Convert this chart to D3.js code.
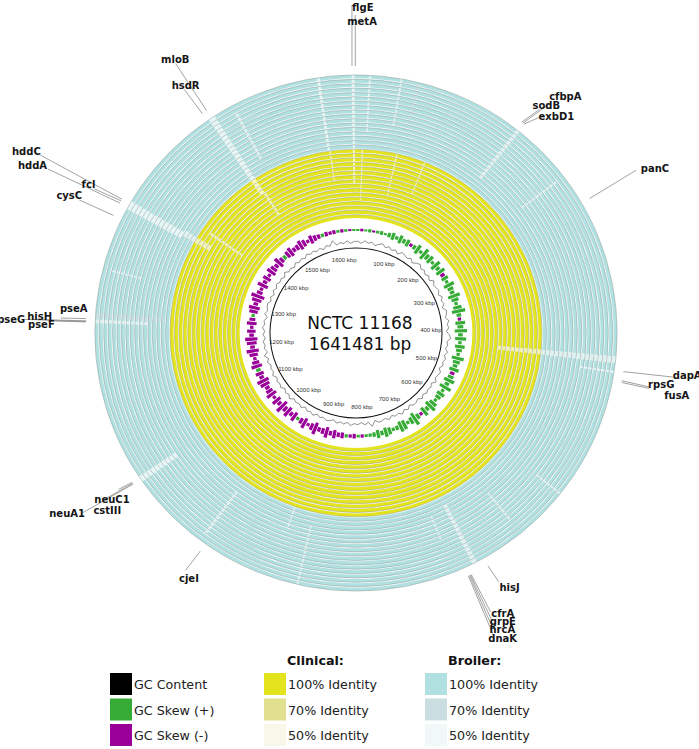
<!DOCTYPE html>
<html>
<head>
<meta charset="utf-8">
<script src="https://cdn.jsdelivr.net/npm/d3@7"></script>
<style>
  body { margin: 0; background: #fff; }
  svg { display: block; }
</style>
</head>
<body>
<div id="chart"></div>
<script>
// genome
const GENOME_KBP = 1641.481;
const genomeLines = ["NCTC 11168", "1641481 bp"];
const tickKbp = [100, 200, 300, 400, 500, 600, 700, 800, 900, 1000, 1100, 1200, 1300, 1400, 1500, 1600];

// ring groups (inside -> outside)
const groupNames = ["Clinical:", "Broiler:"];
const ringCounts = [16, 17];
const identityLabels = ["100% Identity", "70% Identity", "50% Identity"];
const clinicalColors = ["#e3e31e", "#e1e08e", "#f7f7ea"];
const broilerColors = ["#b0e0e0", "#c9dfe1", "#f1f8f8"];
const gcLabels = ["GC Content", "GC Skew (+)", "GC Skew (-)"];
const gcColors = ["#000000", "#36ac36", "#990099"];

// regions of lower identity: [start kbp, end kbp, first ring, last ring, level]
// level 0 = no hit, 50 / 70 = partial identity
const gaps = [
  [1602, 1605, 16, 32, 0], [1604, 1606, 9, 15, 50], [1637, 1640, 8, 32, 0],
  [13, 15, 20, 32, 50], [8, 10, 4, 15, 50], [45, 47, 22, 32, 50], [57, 59, 6, 15, 50],
  [62, 65, 24, 32, 70], [98, 100, 8, 15, 50], [1485, 1492, 12, 32, 0],
  [1490, 1494, 6, 11, 50], [1511, 1514, 19, 30, 50], [1362, 1371, 19, 32, 0],
  [1366, 1374, 12, 18, 50], [1387, 1391, 5, 13, 50], [1246, 1252, 17, 32, 70],
  [1241, 1245, 21, 32, 50], [1296, 1298, 24, 30, 50], [434, 441, 6, 32, 50],
  [449, 451, 25, 32, 0], [695, 700, 18, 32, 50], [641, 643, 21, 28, 50],
  [585, 587, 26, 32, 50], [986, 989, 19, 30, 50], [907, 909, 16, 20, 50],
  [1071, 1077, 23, 32, 0], [173, 177, 19, 32, 50], [239, 241, 21, 30, 50],
  [879, 881, 19, 32, 50], [719, 721, 19, 24, 50]
];

// gene labels: ring position, leader end, label centre (kbp, radius)
const genes = [
  {name: "flgE", pos: 1637.6, lpos: 1638.3, lr: 328, tpos: 5.4, tr: 326},
  {name: "metA", pos: 1640.8, lpos: 1640.9, lr: 318, tpos: 5.0, tr: 312},
  {name: "mloB", pos: 1488.4, lpos: 1488.8, lr: 323, tpos: 1490.5, tr: 327},
  {name: "hsdR", pos: 1483.3, lpos: 1482.5, lr: 297, tpos: 1485.2, tr: 299},
  {name: "hddC", pos: 1368.1, lpos: 1366.5, lr: 359, tpos: 1364.1, tr: 373},
  {name: "hddA", pos: 1363.9, lpos: 1360.2, lr: 346, tpos: 1357.4, tr: 361},
  {name: "fcl", pos: 1366.3, lpos: 1364.0, lr: 296, tpos: 1364.5, tr: 303},
  {name: "cysC", pos: 1350.3, lpos: 1349.4, lr: 304, tpos: 1349.3, tr: 315},
  {name: "pseA", pos: 1245.2, lpos: 1244.5, lr: 292, tpos: 1253.8, tr: 280},
  {name: "hisH", pos: 1243.0, lpos: 1242.2, lr: 320, tpos: 1245.1, tr: 313},
  {name: "pseF", pos: 1242.0, lpos: 1241.5, lr: 305, tpos: 1238.1, tr: 311},
  {name: "pseG", pos: 1242.4, lpos: 1242.0, lr: 328, tpos: 1241.3, tr: 341},
  {name: "cfbpA", pos: 174.0, lpos: 182.0, lr: 300, tpos: 187.9, tr: 314},
  {name: "sodB", pos: 172.5, lpos: 178.0, lr: 288, tpos: 180.6, tr: 295},
  {name: "exbD1", pos: 175.5, lpos: 184.0, lr: 285, tpos: 193.8, tr: 293},
  {name: "panC", pos: 272.5, lpos: 271.5, lr: 321, tpos: 277.9, tr: 338},
  {name: "dapA", pos: 448.3, lpos: 446.9, lr: 316, tpos: 444.2, tr: 330},
  {name: "rpsG", pos: 457.3, lpos: 458.5, lr: 295, tpos: 454.7, tr: 306},
  {name: "fusA", pos: 459.0, lpos: 459.8, lr: 295, tpos: 460.9, tr: 323},
  {name: "hisJ", pos: 687.3, lpos: 686.1, lr: 286, tpos: 680.1, tr: 296},
  {name: "cfrA", pos: 705.6, lpos: 704.5, lr: 309, tpos: 696.2, tr: 316},
  {name: "grpE", pos: 706.6, lpos: 706.6, lr: 317, tpos: 699.0, tr: 323},
  {name: "hrcA", pos: 707.6, lpos: 708.6, lr: 324, tpos: 702.3, tr: 330},
  {name: "dnaK", pos: 708.7, lpos: 710.5, lr: 332, tpos: 705.0, tr: 338},
  {name: "cjeI", pos: 981.3, lpos: 981.9, lr: 291, tpos: 975.3, tr: 296},
  {name: "neuC1", pos: 1076.0, lpos: 1077.5, lr: 282, tpos: 1073.3, tr: 293},
  {name: "cstIII", pos: 1075.0, lpos: 1077.0, lr: 300, tpos: 1067.8, tr: 303},
  {name: "neuA1", pos: 1074.0, lpos: 1077.7, lr: 324, tpos: 1083.5, tr: 338}
];

// GC skew and GC content, 10 kbp windows, relative scale -1..1
const gcSkew = [
  0.1, -0.15, 0.1, 0.2, -0.1, 0.15, 0.25, 0.1, 0.3, 0.5,
  0.2, 0.6, 0.3, 0.5, -0.2, 0.3, 0.7, 0.2, 0.9, 0.4,
  0.6, 0.2, 0.8, 0.3, 0.7, -0.3, 0.5, 0.2, 0.8, 0.4,
  0.3, 0.9, 0.5, 0.2, 0.6, 1.0, 0.3, -0.2, 0.7, 0.4,
  0.9, 0.3, 0.8, 0.2, 0.7, 0.4, 0.2, 0.9, 0.5, 0.3,
  0.7, -0.3, 0.4, 0.8, 0.3, 0.9, 0.2, 0.6, 0.4, 0.2,
  0.6, 0.9, 0.3, 0.7, -0.2, 0.4, 1.0, 0.5, 0.2, 0.7,
  0.8, 0.3, 0.2, 0.5, 0.7, 0.3, 0.6, 0.3, 0.2, 0.15,
  -0.2, 0.15, -0.3, -0.2, 0.2, -0.4, -0.3, -0.6, -0.3, -0.8,
  -0.4, -0.3, -0.9, -0.5, -0.2, -0.8, -0.4, 0.2, -0.7, -0.3,
  -0.8, -0.4, -1.0, -0.3, -0.7, -0.2, -0.8, -0.5, -0.3, -0.7,
  -0.9, -0.3, -0.6, 0.3, -0.8, -0.5, -0.2, -0.6, -0.9, -0.3,
  -0.7, -0.9, -0.3, -0.6, -0.2, -0.7, -0.4, 0.2, -0.6, -0.8,
  -0.3, -0.7, -1.0, -0.4, -0.2, -0.8, -0.3, -0.6, -0.2, -0.7,
  -0.5, -0.3, -0.8, -0.4, 0.3, -0.5, -0.7, -0.3, -0.4, -0.7,
  -0.5, -0.2, -0.6, -0.4, -0.3, 0.2, -0.3, -0.2, -0.25, 0.15,
  -0.2, 0.15, -0.1, 0.1
];
const gcContent = [
  0.2, -0.3, 0.4, -0.1, 0.3, -0.4, 0.1, 0.5, -0.2, 0.3,
  -0.3, 0.2, -0.5, 0.4, 0.1, -0.2, 0.3, -0.4, 0.2, 0.6,
  -0.1, 0.3, -0.3, 0.2, -0.4, 0.5, -0.2, 0.1, 0.3, -0.3,
  0.4, -0.2, 0.2, -0.5, 0.3, 0.1, -0.3, 0.4, -0.1, 0.2,
  -0.4, 0.3, 0.7, -0.2, 0.1, -0.3, 0.4, -0.2, 0.3, -0.1,
  0.2, -0.4, 0.3, 0.1, -0.2, 0.5, -0.3, 0.2, -0.1, 0.3,
  -0.2, 0.4, -0.3, 0.1, 0.2, -0.4, 0.3, -0.2, 0.5, -0.1,
  0.2, -0.3, 0.4, -0.2, 0.1, 0.3, -0.4, 0.9, -0.2, 0.3,
  -0.3, 0.2, -0.1, 0.4, -0.3, 0.2, -0.2, 0.3, -0.4, 0.1,
  0.3, -0.2, 0.2, -0.3, 0.4, -0.1, 0.2, -0.4, 0.3, -0.2,
  0.1, -0.3, 0.5, -0.2, 0.2, -0.4, 0.3, -0.1, 0.2, -0.3,
  0.4, -0.2, 0.1, -0.3, 0.3, -0.2, 0.6, -0.4, 0.2, -0.1,
  0.3, -0.3, 0.2, -0.2, 0.4, -0.1, 0.2, -0.5, 0.3, -0.2,
  0.1, 0.3, -0.3, 0.2, -0.4, 0.3, -0.2, 0.4, -0.1, 0.2,
  -0.3, 0.5, -0.2, 0.1, -0.4, 0.3, -0.2, 0.2, -0.3, 0.4,
  -0.1, 0.3, -0.2, 0.2, -0.4, 0.3, -0.1, 1.0, -0.3, 0.2,
  -0.2, 0.4, -0.3, 0.1
];

const W = 699, H = 749;
const cx = 356, cy = 333, SX = 1.012;

const svg = d3.select("#chart").append("svg")
  .attr("width", W).attr("height", H)
  .style("font-family", "'DejaVu Sans', Verdana, sans-serif");

const angle = d3.scaleLinear().domain([0, GENOME_KBP]).range([0, 2 * Math.PI]);
const totalRings = d3.sum(ringCounts);
const ringR = d3.scaleLinear().domain([0, totalRings]).range([115, 259]);

function polar(kbp, r) {
  const a = angle(kbp);
  return [cx + SX * r * Math.sin(a), cy - r * Math.cos(a)];
}

const plot = svg.append("g")
  .attr("transform", "translate(" + cx + "," + cy + ") scale(" + SX + ",1)");

// identity rings
const rings = d3.range(totalRings).map(i => ({
  i: i,
  group: i < ringCounts[0] ? 0 : 1
}));
const colorsFor = g => g === 0 ? clinicalColors : broilerColors;
const arc = d3.arc();

plot.append("g").selectAll("path").data(rings).enter().append("path")
  .attr("d", d => arc({innerRadius: ringR(d.i), outerRadius: ringR(d.i + 1) - 1.0,
                       startAngle: 0, endAngle: 2 * Math.PI}))
  .attr("fill", d => colorsFor(d.group)[0]);

// low identity segments
const gapSegs = [];
gaps.forEach(g => {
  for (let i = g[2]; i <= g[3]; i++) gapSegs.push({s: g[0], e: g[1], i: i, level: g[4]});
});
plot.append("g").selectAll("path").data(gapSegs).enter().append("path")
  .attr("d", d => arc({innerRadius: ringR(d.i), outerRadius: ringR(d.i + 1) - 1.0,
                       startAngle: angle(d.s), endAngle: angle(d.e)}))
  .attr("fill", d => {
    const c = colorsFor(d.i < ringCounts[0] ? 0 : 1);
    return d.level === 0 ? "#ffffff" : d.level === 70 ? c[1] : c[2];
  })
  .attr("opacity", d => d.level === 0 ? 0.7 : 0.75);

// thin grey ring edges
plot.append("g").selectAll("circle").data(rings).enter().append("circle")
  .attr("r", d => ringR(d.i + 1) - 0.9)
  .attr("fill", "none").attr("stroke", "#8e9898").attr("stroke-width", 0.5);

// GC skew, one bar per window, spread around the slot middle
const skewBase = 103, skewAmp = 7;
const gcBase = 91, gcAmp = 4;
const win = GENOME_KBP / gcSkew.length;
const skewData = gcSkew.map((v, i) => ({pos: i * win, v: v}));

plot.append("g").selectAll("path").data(skewData).enter().append("path")
  .attr("d", d => arc({
    innerRadius: skewBase - Math.abs(d.v) * skewAmp * 0.8 - 0.4,
    outerRadius: skewBase + Math.abs(d.v) * skewAmp + 0.4,
    startAngle: angle(d.pos + win * 0.05), endAngle: angle(d.pos + win * 0.85)}))
  .attr("fill", d => d.v >= 0 ? gcColors[1] : gcColors[2]);

// GC content
const gcData = gcContent.map((v, i) => ({pos: (i + 0.5) * win, v: v}));
gcData.push({pos: GENOME_KBP + 0.5 * win, v: gcContent[0]});
const gcLine = d3.lineRadial()
  .angle(d => angle(d.pos))
  .radius(d => gcBase + d.v * gcAmp);
plot.append("path").attr("d", gcLine(gcData))
  .attr("fill", "none").attr("stroke", "#222").attr("stroke-width", 0.5);

// backbone
plot.append("circle").attr("r", 85).attr("fill", "none")
  .attr("stroke", "#111").attr("stroke-width", 1);

// kbp tick labels
svg.append("g").selectAll("text").data(tickKbp).enter().append("text")
  .attr("x", d => polar(d, 74)[0])
  .attr("y", d => polar(d, 74)[1])
  .attr("text-anchor", "middle").attr("dominant-baseline", "central")
  .style("font-family", "'Liberation Sans', Arial, sans-serif")
  .style("font-size", "6px").attr("fill", "#333")
  .text(d => d + " kbp");

// genome name
svg.append("g").selectAll("text").data(genomeLines).enter().append("text")
  .attr("x", cx + 4).attr("y", (d, i) => 329 + i * 21)
  .attr("text-anchor", "middle")
  .style("font-size", "17px").attr("fill", "#111")
  .text(d => d);

// gene leaders and labels
const gl = svg.append("g");
gl.selectAll("line").data(genes).enter().append("line")
  .attr("x1", d => polar(d.pos, 267)[0]).attr("y1", d => polar(d.pos, 267)[1])
  .attr("x2", d => polar(d.lpos, d.lr)[0]).attr("y2", d => polar(d.lpos, d.lr)[1])
  .attr("stroke", "#8a8a8a").attr("stroke-width", 0.8);
gl.selectAll("text").data(genes).enter().append("text")
  .attr("x", d => polar(d.tpos, d.tr)[0]).attr("y", d => polar(d.tpos, d.tr)[1])
  .attr("text-anchor", "middle").attr("dominant-baseline", "central")
  .style("font-size", "10px").style("font-weight", "bold").attr("fill", "#151515")
  .text(d => d.name);

// legend
const legend = svg.append("g").style("font-size", "12.7px");
const rowY = [673, 698.5, 724];
const colX = [110, 264, 425];
const cols = [
  {title: null, labels: gcLabels, colors: gcColors},
  {title: groupNames[0], labels: identityLabels, colors: clinicalColors},
  {title: groupNames[1], labels: identityLabels, colors: broilerColors}
];
cols.forEach((c, ci) => {
  const g = legend.append("g").attr("transform", "translate(" + colX[ci] + ",0)");
  if (c.title) {
    g.append("text").attr("x", 23).attr("y", 665)
      .style("font-weight", "bold").attr("fill", "#111").text(c.title);
  }
  g.selectAll("rect").data(c.colors).enter().append("rect")
    .attr("x", 0).attr("y", (d, i) => rowY[i])
    .attr("width", 22).attr("height", 22).attr("fill", d => d);
  g.selectAll("text.lab").data(c.labels).enter().append("text")
    .attr("class", "lab")
    .attr("x", 24).attr("y", (d, i) => rowY[i] + 16)
    .attr("fill", "#222").text(d => d);
});
</script>
</body>
</html>
